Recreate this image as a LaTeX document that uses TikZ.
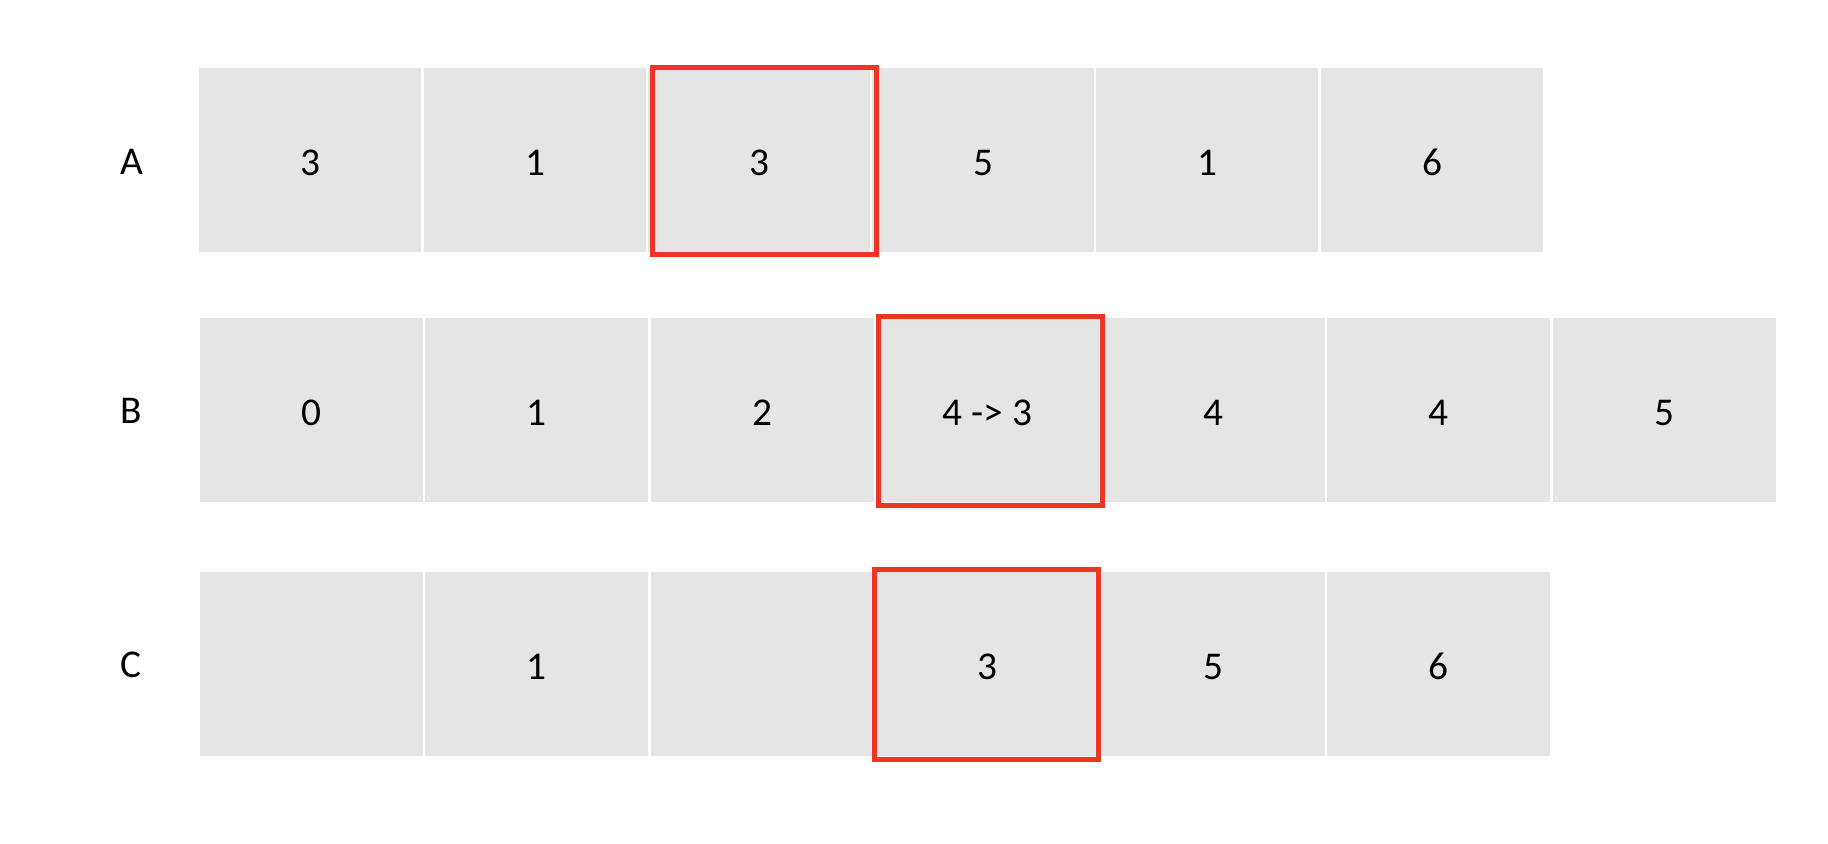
\documentclass[tikz,border=0pt]{standalone}
\usepackage{fontspec}
\setmainfont{Carlito}
\usepackage{tikz}
\definecolor{pickred}{RGB}{238,52,36}

\begin{document}
\begin{tikzpicture}[
    cell/.style={rectangle, fill=gray!20, minimum width=2.23cm, minimum height=1.84cm, inner sep=0pt, text height=0.31cm},
    pick/.style={rectangle, draw=pickred, line width=0.05cm, minimum width=2.24cm, minimum height=1.89cm, inner sep=0pt},
    rowname/.style={inner sep=0pt},
    font=\fontsize{11.2pt}{13pt}\selectfont
]
\useasboundingbox (0,0) rectangle (18.28,-8.44);

% Row labels
\node[rowname] (la) at (1.32, -1.62) {A};
\node[rowname] (lb) at (1.31, -4.11) {B};
\node[rowname] (lc) at (1.31, -6.65) {C};

% Row A
\node[cell, minimum width=2.22cm] (a1) at (3.10, -1.60) {3};
\node[cell, minimum width=2.22cm] (a2) at (5.35, -1.60) {1};
\node[cell, minimum width=2.22cm] (a3) at (7.59, -1.60) {3};
\node[cell, minimum width=2.22cm] (a4) at (9.83, -1.60) {5};
\node[cell, minimum width=2.22cm] (a5) at (12.07, -1.60) {1};
\node[cell, minimum width=2.22cm] (a6) at (14.32, -1.60) {6};

% Row B
\node[cell] (b1) at (3.11, -4.10) {0};
\node[cell] (b2) at (5.365, -4.10) {1};
\node[cell] (b3) at (7.62, -4.10) {2};
\node[cell] (b4) at (9.875, -4.10) {4 -> 3};
\node[cell] (b5) at (12.13, -4.10) {4};
\node[cell] (b6) at (14.385, -4.10) {4};
\node[cell] (b7) at (16.64, -4.10) {5};

% Row C
\node[cell] (c1) at (3.11, -6.64) {};
\node[cell] (c2) at (5.365, -6.64) {1};
\node[cell] (c3) at (7.62, -6.64) {};
\node[cell] (c4) at (9.875, -6.64) {3};
\node[cell] (c5) at (12.13, -6.64) {5};
\node[cell] (c6) at (14.385, -6.64) {6};

% Highlighted cells
\node[pick, minimum height=1.87cm] (pickA) at (7.64, -1.615) {};
\node[pick] (pickB) at (9.90, -4.11) {};
\node[pick] (pickC) at (9.86, -6.645) {};

\end{tikzpicture}
\end{document}
